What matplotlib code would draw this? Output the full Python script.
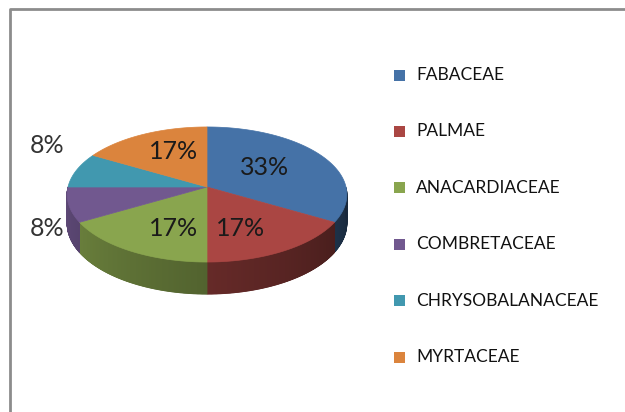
import numpy as np
import matplotlib
matplotlib.use('AGG')
import matplotlib.pyplot as plt
from matplotlib.patches import Polygon, Rectangle

# family counts (shares of 12 species)
families = ['FABACEAE', 'PALMAE', 'ANACARDIACEAE', 'COMBRETACEAE',
            'CHRYSOBALANACEAE', 'MYRTACEAE']
counts = [4, 2, 2, 1, 1, 2]
colors = ['#4572A7', '#AA4643', '#89A54E', '#71588F', '#4198AF', '#DB843D']

plt.rcParams['font.family'] = ['Lato', 'DejaVu Sans']

W, H = 625, 412
fig = plt.figure(figsize=(W / 100, H / 100), dpi=100)
ax = fig.add_axes([0, 0, 1, 1])
ax.set_xlim(0, W)
ax.set_ylim(H, 0)
ax.axis('off')

# chart frame
ax.plot([10, 10, W], [H, 9, 9], color='#8c8c8c', lw=2, solid_capstyle='butt')

# 3d pie geometry (pixels)
cx, cy = 207, 187
a, b = 139, 66.7
k = 0.111
depth = 28.5


def proj(t, r=1.0):
    u = r * np.cos(t)
    v = r * np.sin(t)
    w = 1 + k * v
    return cx + a * u / w, cy - b * v / w, w


def shade(c, f):
    rgb = np.array(matplotlib.colors.to_rgb(c))
    return tuple(rgb * f)


total = sum(counts)
start = np.pi / 2
wedges = []
for n, c in zip(counts, colors):
    sweep = 2 * np.pi * n / total
    wedges.append((start - sweep, start, c))
    start -= sweep

# side walls (front half only), gradient darker to the right
for t0, t1, c in wedges:
    ts = np.linspace(t0, t1, 200)
    ts = ts[(np.mod(ts, 2 * np.pi) >= np.pi)]
    for i in range(len(ts) - 1):
        x0, y0, w0 = proj(ts[i])
        x1, y1, w1 = proj(ts[i + 1])
        tm = np.mod(0.5 * (ts[i] + ts[i + 1]), 2 * np.pi)
        f = 0.85 - 0.5 * (tm - np.pi) / np.pi
        quad = [(x0, y0), (x1, y1), (x1, y1 + depth / w1), (x0, y0 + depth / w0)]
        ax.add_patch(Polygon(quad, closed=True, fc=shade(c, f), ec=shade(c, f), lw=0.6))

# top faces
for t0, t1, c in wedges:
    ts = np.linspace(t0, t1, 200)
    pts = [(cx, cy)] + [proj(t)[:2] for t in ts]
    ax.add_patch(Polygon(pts, closed=True, fc=c, ec=c, lw=0.5))

# percentage labels
for (t0, t1, c), n in zip(wedges, counts):
    pct = '{:.0f}%'.format(100 * n / total)
    m = 0.5 * (t0 + t1)
    if n / total < 0.1:
        x = cx + a * 1.19 * np.cos(m)
        y = cy - b * 2.4 * np.sin(m)
        col = '#333333'
    else:
        x = cx + a * 0.48 * np.cos(m)
        y = cy + 3 - b * 0.66 * np.sin(m)
        col = '#1a1a1a'
    ax.text(x, y, pct, fontsize=18, color=col, ha='center', va='center')

# legend
for i, (name, c) in enumerate(zip(families, colors)):
    y = 75 + i * 56.4
    ax.add_patch(Rectangle((394, y - 5.5), 11, 11, fc=c, ec='none'))
    ax.text(416, y, name, fontsize=12.5, color='#111111', ha='left', va='center')

fig.savefig('out.png', dpi=100)
